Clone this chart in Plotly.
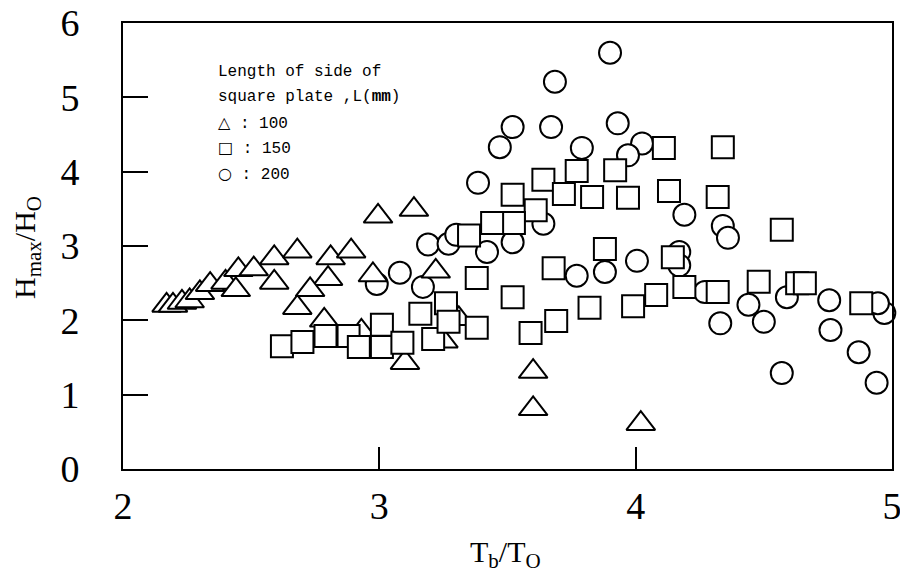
import plotly.graph_objects as go

# L = 100 mm (triangles)
tri_x = [2.17, 2.195, 2.23, 2.26, 2.30, 2.34, 2.40, 2.45, 2.44, 2.51, 2.59, 2.59, 2.68, 2.81, 2.89,
         2.975, 3.22, 2.80, 2.73, 2.68, 2.785, 2.93, 3.10, 3.25, 3.31, 2.995, 3.135, 3.60, 3.60, 4.02]
tri_y = [2.20, 2.20, 2.24, 2.26, 2.37, 2.48, 2.51, 2.68, 2.41, 2.69, 2.84, 2.51, 2.93, 2.84, 2.93,
         2.61, 2.66, 2.56, 2.41, 2.17, 2.00, 1.85, 1.43, 1.72, 2.02, 3.40, 3.49, 1.31, 0.81, 0.61]

# L = 150 mm (squares)
sq_x = [2.62, 2.70, 2.79, 2.88, 2.92, 3.01, 3.01, 3.09, 3.16, 3.21, 3.26, 3.27, 3.38, 3.38, 3.35,
        3.52, 3.59, 3.69, 3.68, 3.88, 3.82, 3.99, 4.08, 4.145, 3.52, 3.64, 3.77, 3.92, 4.11, 4.34,
        3.72, 3.83, 3.97, 4.13, 3.61, 3.525, 3.44, 4.32, 4.57, 4.19, 4.32, 4.48, 4.63, 4.66, 4.88]
sq_y = [1.65, 1.71, 1.79, 1.79, 1.64, 1.94, 1.64, 1.70, 2.09, 1.75, 2.23, 1.98, 1.90, 2.57, 3.14,
        2.31, 1.83, 1.99, 2.70, 2.96, 2.17, 2.19, 2.34, 2.85, 3.69, 3.89, 4.01, 4.02, 4.32, 4.33,
        3.70, 3.66, 3.65, 3.74, 3.48, 3.31, 3.31, 3.66, 3.22, 2.45, 2.38, 2.52, 2.50, 2.50, 2.23]

# L = 200 mm (circles)
ci_x = [3.90, 3.685, 3.52, 3.67, 3.47, 3.93, 3.79, 4.025, 3.97, 3.385, 3.64, 3.19, 3.27, 3.30,
        4.19, 3.42, 3.52, 3.08, 3.17, 2.99, 3.77, 3.88, 4.005, 4.34, 4.36, 4.17, 4.17, 4.27,
        4.33, 4.44, 4.50, 4.59, 4.57, 4.755, 4.76, 4.87, 4.94, 4.97, 4.945]
ci_y = [5.60, 5.21, 4.60, 4.60, 4.33, 4.65, 4.32, 4.38, 4.22, 3.85, 3.30, 3.02, 3.03, 3.15,
        3.42, 2.92, 3.05, 2.64, 2.45, 2.49, 2.60, 2.65, 2.80, 3.27, 3.11, 2.92, 2.74, 2.38,
        1.96, 2.21, 1.98, 2.31, 1.29, 2.27, 1.87, 1.57, 1.16, 2.10, 2.23]

x_ticks = [2, 3, 4, 5]
y_ticks = [0, 1, 2, 3, 4, 5, 6]

sym = '<span style="font-family:DejaVu Sans">{}</span>'
legend_lines = ["Length of side of", "square plate ,L(<b>mm</b>)",
                sym.format("\u25b3") + " : 100", sym.format("\u25a1") + " : 150",
                sym.format("\u25cb") + " : 200"]

fig = go.Figure()
line = dict(color="black", width=2)
fig.add_trace(go.Scatter(x=ci_x, y=ci_y, mode="markers", cliponaxis=False,
                         marker=dict(symbol="circle", size=22, color="white", line=line)))
fig.add_trace(go.Scatter(x=tri_x, y=tri_y, mode="markers", cliponaxis=False,
                         marker=dict(symbol="triangle-up", size=25, color="white", line=line)))
fig.add_trace(go.Scatter(x=sq_x, y=sq_y, mode="markers", cliponaxis=False,
                         marker=dict(symbol="square", size=22, color="white", line=line)))

# body margin is removed below, so figure pixels = screenshot pixels
W, H = 900, 578
L, T = 123, 23
R = W - 892
B = H - 469
pw, ph = W - L - R, H - T - B


def px(sx):
    return (sx - L) / pw


def py(sy):
    return (H - B - sy) / ph


serif = "Liberation Serif"
fig.update_layout(
    width=W, height=H, margin=dict(l=L, r=R, t=T, b=B, autoexpand=False),
    paper_bgcolor="white", plot_bgcolor="white", showlegend=False,
    font=dict(family=serif, color="black"),
)
fig.update_xaxes(range=[2, 5], tickvals=x_ticks, ticks="inside", ticklen=22, tickwidth=2,
                 tickcolor="black", showline=True, linecolor="black", linewidth=2, mirror=True,
                 showgrid=False, zeroline=False, tickfont=dict(family=serif, size=38),
                 ticklabelstandoff=2, automargin=False, ticklabeloverflow="allow")
fig.update_yaxes(range=[0, 6], tickvals=y_ticks, ticks="inside", ticklen=25, tickwidth=2,
                 tickcolor="black", showline=True, linecolor="black", linewidth=2, mirror=True,
                 showgrid=False, zeroline=False, tickfont=dict(family=serif, size=38),
                 ticklabelstandoff=34, automargin=False, ticklabeloverflow="allow")

ann = []
ann.append(dict(text="T<sub>b</sub>/T<sub>O</sub>", x=px(505), y=py(554),
                xref="paper", yref="paper", showarrow=False, xanchor="center", yanchor="middle",
                font=dict(family=serif, size=30)))
ann.append(dict(text="H<sub>max</sub>/H<sub>O</sub>", x=px(27), y=py(248),
                xref="paper", yref="paper", showarrow=False, xanchor="center", yanchor="middle",
                textangle=-90, font=dict(family=serif, size=30)))
line_y = [72, 97, 123, 148, 174]
for txt, sy in zip(legend_lines, line_y):
    ann.append(dict(text=txt, x=px(216), y=py(sy), xref="paper", yref="paper",
                    showarrow=False, xanchor="left", yanchor="middle",
                    font=dict(family="Liberation Mono", size=16)))
fig.update_layout(annotations=ann)

fig.write_html("out.html", config={"displayModeBar": False},
               post_script="document.body.style.margin='0';document.body.style.overflow='hidden';")
